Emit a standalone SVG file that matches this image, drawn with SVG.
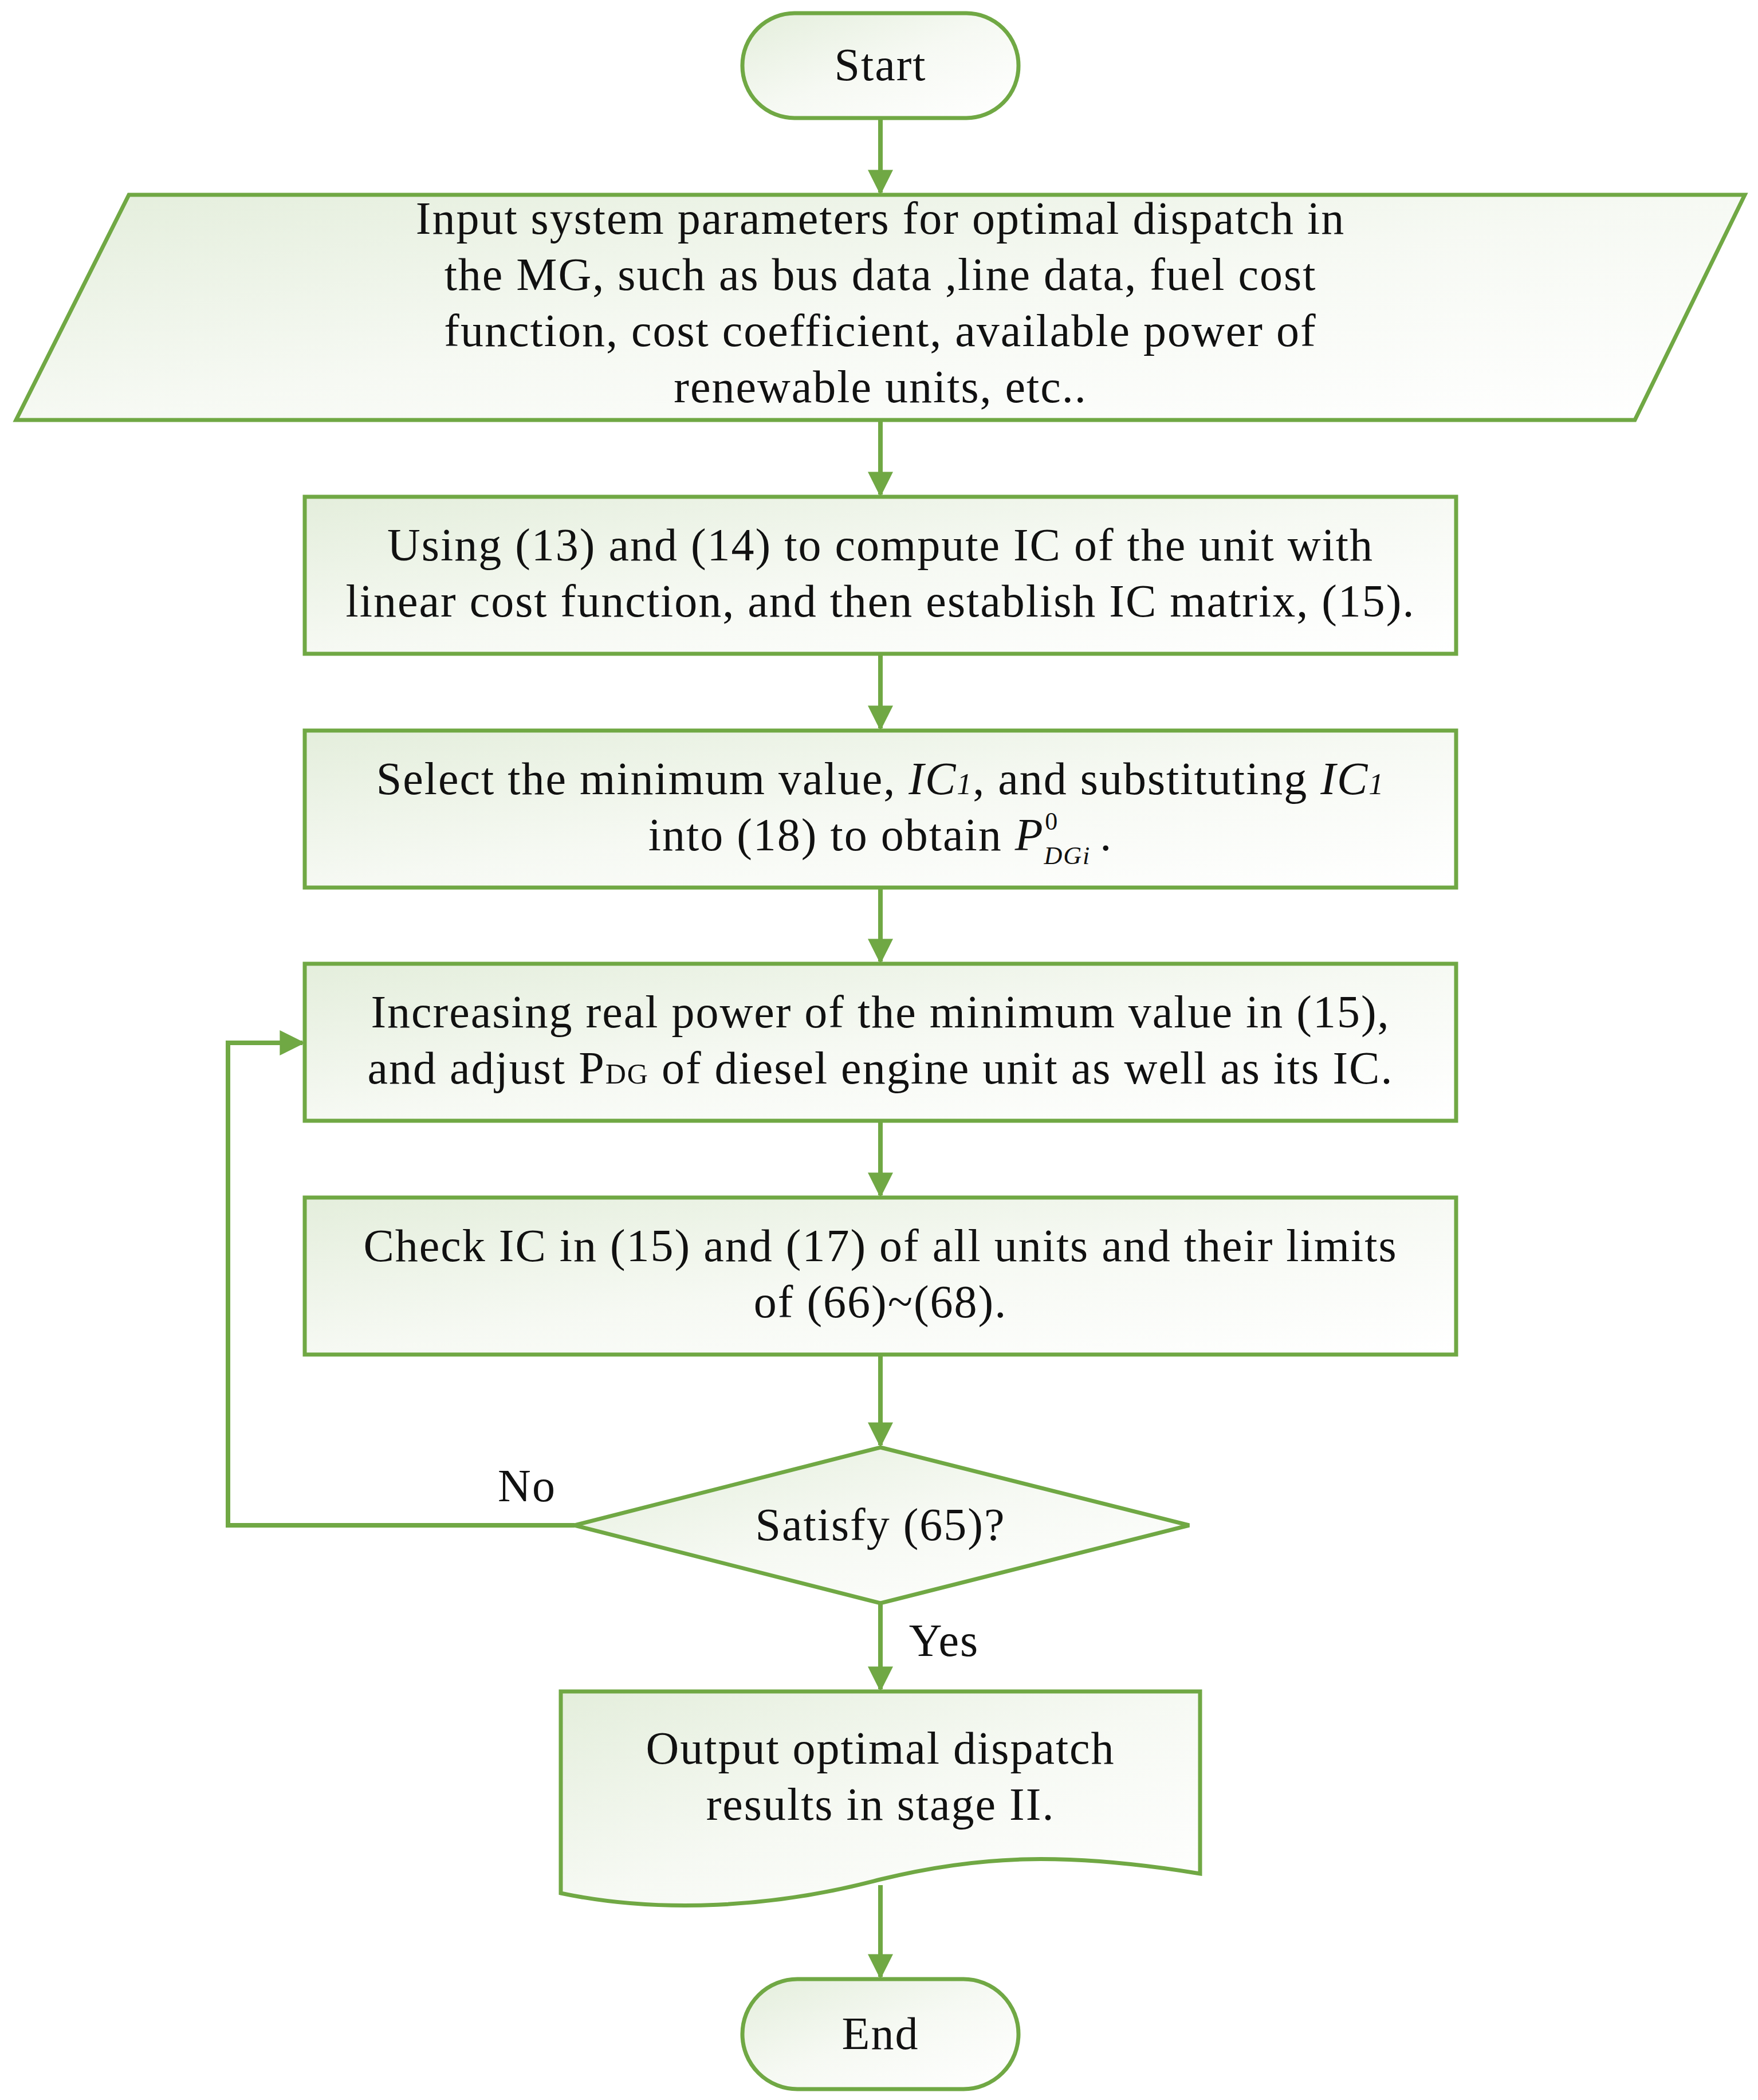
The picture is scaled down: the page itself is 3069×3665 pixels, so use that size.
<svg xmlns="http://www.w3.org/2000/svg" width="3069" height="3665" viewBox="0 0 3069 3665">
<defs>
<linearGradient id="g" x1="0" y1="0" x2="1" y2="1"><stop offset="0" stop-color="#e4eedc"/><stop offset="0.5" stop-color="#f6f9f3"/><stop offset="1" stop-color="#ffffff"/></linearGradient>
<marker id="a" viewBox="0 0 10 10" refX="9" refY="5" markerWidth="5.5" markerHeight="5.5" orient="auto" markerUnits="strokeWidth"><path d="M0,0 L10,5 L0,10 z" fill="#70a844"/></marker>
</defs>
<style>
.n{fill:url(#g);stroke:#70a844;stroke-width:7}
.c{fill:none;stroke:#70a844;stroke-width:8;marker-end:url(#a)}
text{font-family:"Liberation Serif","DejaVu Serif",serif;font-size:80px;letter-spacing:2px;fill:#111;text-anchor:middle}
</style>
<rect width="3069" height="3665" fill="#fff"/>
<g id="start"><rect class="n" x="1296" y="23" width="482" height="183" rx="91"/><text x="1537" y="140">Start</text></g>
<g id="input"><polygon class="n" points="225,340 3046,340 2854,733 28,733"/>
<text x="1537" y="408">Input system parameters for optimal dispatch in</text>
<text x="1537" y="506">the MG, such as bus data ,line data, fuel cost</text>
<text x="1537" y="604">function, cost coefficient,  available power of</text>
<text x="1537" y="702">renewable units, etc..</text></g>
<g id="b1"><rect class="n" x="532" y="867" width="2010" height="274"/>
<text x="1537" y="978">Using (13) and (14) to compute IC of the unit with</text>
<text x="1537" y="1076">linear cost function, and then establish IC matrix, (15).</text></g>
<g id="b2"><rect class="n" x="532" y="1275" width="2010" height="274"/>
<text x="1537" y="1386">Select the minimum value, <tspan font-style="italic">IC</tspan><tspan font-style="italic" font-size="52">1</tspan>, and substituting <tspan font-style="italic">IC</tspan><tspan font-style="italic" font-size="52">1</tspan></text>
<text x="1537" y="1484">into (18) to obtain  <tspan font-style="italic">P</tspan><tspan font-style="italic" font-size="44" dy="24">DGi</tspan><tspan font-size="44" dx="-80" dy="-60">0</tspan><tspan dx="50" dy="36"> .</tspan></text></g>
<g id="b3"><rect class="n" x="532" y="1682" width="2010" height="274"/>
<text x="1537" y="1793">Increasing real power of the minimum value in (15),</text>
<text x="1537" y="1891">and adjust  P<tspan font-size="50">DG</tspan> of diesel engine unit as well as its IC.</text></g>
<g id="b4"><rect class="n" x="532" y="2090" width="2010" height="274"/>
<text x="1537" y="2201">Check IC in (15) and (17) of all units and their limits</text>
<text x="1537" y="2299">of (66)~(68).</text></g>
<g id="dec"><polygon class="n" points="1537,2526 2076,2662 1537,2798 1003,2662"/><text x="1537" y="2688">Satisfy (65)?</text></g>
<g id="out"><path class="n" d="M979,2952 H2095 V3270 C1850,3230 1700,3240 1537,3280 C1350,3330 1150,3340 979,3304 Z"/>
<text x="1537" y="3078">Output optimal dispatch</text>
<text x="1537" y="3176">results in stage II.</text></g>
<g id="end"><rect class="n" x="1296" y="3454" width="482" height="192" rx="96"/><text x="1537" y="3576">End</text></g>
<g id="connectors">
<line class="c" x1="1537" y1="206" x2="1537" y2="336"/>
<line class="c" x1="1537" y1="733" x2="1537" y2="863"/>
<line class="c" x1="1537" y1="1141" x2="1537" y2="1271"/>
<line class="c" x1="1537" y1="1549" x2="1537" y2="1678"/>
<line class="c" x1="1537" y1="1956" x2="1537" y2="2086"/>
<line class="c" x1="1537" y1="2364" x2="1537" y2="2522"/>
<line class="c" x1="1537" y1="2798" x2="1537" y2="2948"/>
<line class="c" x1="1537" y1="3290" x2="1537" y2="3450"/>
<polyline class="c" points="1003,2662 398,2662 398,1820 528,1820"/>
<text x="920" y="2620">No</text>
<text x="1648" y="2890">Yes</text>
</g>
</svg>
